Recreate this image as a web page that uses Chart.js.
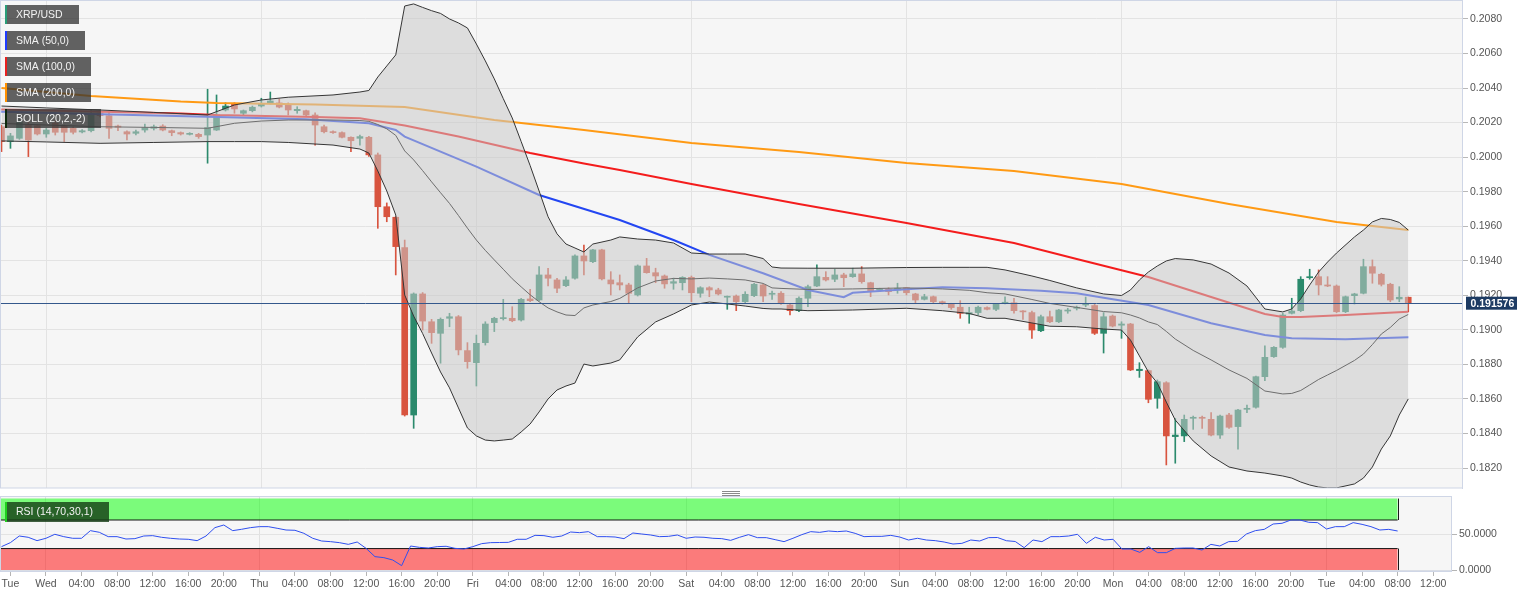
<!DOCTYPE html>
<html><head><meta charset="utf-8">
<script src="https://cdn.jsdelivr.net/npm/chart.js@4.4.1/dist/chart.umd.min.js"></script>
<style>
html,body{margin:0;padding:0;background:#fff;}
#wrap{position:relative;width:1536px;height:596px;overflow:hidden;background:#fff;}
#main{position:absolute;left:0;top:0;}
#rsi{position:absolute;left:0;top:489px;}
</style></head><body>
<div id="wrap"><canvas id="main" width="1536" height="489"></canvas><canvas id="rsi" width="1536" height="107"></canvas></div>
<script>
// ---------- DATA (hours counted from Wed 00:00, hourly candles) ----------
const firstHour = -5; // Tue 19:00
const open = [.20176,.20090,.20109,.20186,.20182,.20134,.20196,.20180,.20167,.20146,
.20153,.20256,.20240,.20180,.20147,.20138,.20157,.20167,.20180,.20153,
.20142,.20132,.20132,.20128,.20157,.20273,.20306,.20254,.20269,.20296,
.20314,.20314,.20302,.20269,.20269,.20244,.20176,.20147,.20142,.20115,
.20109,.20115,.20013,.19713,.19652,.19476,.18507,.19208,.19047,.18980,
.19067,.19076,.18880,.18810,.18926,.19042,.19065,.19067,.19057,.19179,
.19173,.19318,.19289,.19256,.19299,.19428,.19395,.19463,.19289,.19273,
.19260,.19202,.19370,.19331,.19312,.19270,.19273,.19304,.19212,.19244,
.19231,.19189,.19196,.19163,.19198,.19260,.19206,.19212,.19144,.19111,
.19183,.19254,.19304,.19293,.19318,.19308,.19324,.19273,.19231,.19235,
.19231,.19244,.19208,.19177,.19192,.19163,.19148,.19131,.19092,.19100,
.19129,.19119,.19154,.19157,.19109,.19100,.18995,.19076,.19047,.19109,
.19125,.19144,.19141,.18980,.19080,.19027,.19034,.18764,.18764,.18604,
.18694,.18382,.18386,.18488,.18494,.18482,.18391,.18507,.18440,.18540,
.18552,.18729,.18845,.18899,.19096,.19111,.19302,.19308,.19260,.19254,
.19105,.19198,.19212,.19366,.19322,.19264,.19179,.19189];
const high = [.20186,.20138,.20219,.20205,.20186,.20167,.20209,.20186,.20175,.20160,
.20273,.20267,.20262,.20186,.20152,.20157,.20192,.20186,.20188,.20157,
.20146,.20142,.20138,.20393,.20360,.20315,.20315,.20273,.20296,.20341,
.20377,.20337,.20314,.20292,.20273,.20256,.20186,.20152,.20146,.20117,
.20128,.20120,.20024,.19735,.19655,.19520,.19214,.19216,.19061,.19069,
.19096,.19083,.18926,.18970,.19047,.19073,.19177,.19134,.19182,.19235,
.19366,.19357,.19299,.19308,.19434,.19491,.19467,.19467,.19337,.19318,
.19270,.19376,.19414,.19357,.19318,.19299,.19308,.19312,.19250,.19250,
.19241,.19196,.19202,.19221,.19270,.19264,.19225,.19221,.19154,.19192,
.19260,.19376,.19337,.19351,.19328,.19357,.19366,.19276,.19241,.19244,
.19270,.19246,.19212,.19206,.19196,.19167,.19154,.19169,.19131,.19138,
.19134,.19154,.19192,.19183,.19111,.19109,.19086,.19109,.19119,.19125,
.19138,.19190,.19150,.19100,.19086,.19047,.19038,.18810,.18768,.18710,
.18700,.18488,.18507,.18501,.18501,.18521,.18507,.18517,.18540,.18565,
.18733,.18907,.18903,.19096,.19183,.19308,.19351,.19347,.19308,.19260,
.19196,.19212,.19409,.19405,.19328,.19270,.19250,.19190];
const low = [.20032,.20051,.20103,.20003,.20128,.20115,.20128,.20090,.20134,.20140,
.20146,.20233,.20109,.20153,.20099,.20128,.20144,.20157,.20152,.20124,
.20128,.20128,.20109,.19965,.20154,.20267,.20254,.20244,.20262,.20290,
.20308,.20285,.20244,.20254,.20238,.20070,.20140,.20137,.20111,.20032,
.20070,.20004,.19588,.19626,.19318,.18501,.18430,.18999,.18922,.18807,
.19018,.18855,.18778,.18675,.18912,.18990,.19057,.19047,.19051,.19163,
.19167,.19254,.19215,.19250,.19293,.19318,.19389,.19289,.19202,.19231,
.19154,.19196,.19328,.19273,.19241,.19235,.19231,.19163,.19189,.19192,
.19202,.19119,.19111,.19154,.19192,.19163,.19177,.19148,.19086,.19105,
.19134,.19250,.19283,.19279,.19250,.19304,.19270,.19192,.19221,.19202,
.19212,.19202,.19154,.19173,.19157,.19148,.19119,.19067,.19038,.19086,
.19115,.19111,.19150,.19096,.19061,.18951,.18990,.19042,.19042,.19096,
.19115,.19134,.18973,.18866,.19017,.18951,.18764,.18725,.18578,.18546,
.18218,.18228,.18353,.18424,.18430,.18386,.18372,.18430,.18309,.18521,
.18546,.18706,.18841,.18893,.19092,.19105,.19293,.19202,.19250,.19100,
.19100,.19150,.19208,.19270,.19254,.19163,.19163,.19105];
const close = [.20090,.20123,.20205,.20099,.20134,.20157,.20144,.20144,.20144,.20153,
.20254,.20240,.20167,.20173,.20134,.20147,.20171,.20176,.20157,.20142,
.20134,.20138,.20119,.20171,.20244,.20296,.20279,.20269,.20289,.20308,
.20325,.20290,.20273,.20277,.20244,.20186,.20147,.20142,.20115,.20095,
.20119,.20013,.19713,.19655,.19482,.18507,.19208,.19051,.18984,.19061,
.19076,.18884,.18816,.18922,.19034,.19067,.19071,.19053,.19177,.19169,
.19318,.19299,.19241,.19289,.19428,.19399,.19463,.19295,.19266,.19260,
.19212,.19370,.19331,.19312,.19266,.19279,.19304,.19215,.19244,.19231,
.19208,.19192,.19163,.19206,.19264,.19196,.19212,.19154,.19111,.19183,
.19250,.19308,.19289,.19318,.19302,.19324,.19279,.19227,.19235,.19221,
.19241,.19215,.19173,.19192,.19163,.19154,.19129,.19096,.19100,.19131,
.19119,.19150,.19160,.19111,.19104,.18999,.19076,.19047,.19115,.19115,
.19131,.19153,.18980,.19076,.19022,.19034,.18768,.18772,.18598,.18700,
.18386,.18391,.18482,.18494,.18488,.18391,.18501,.18436,.18536,.18546,
.18729,.18841,.18899,.19086,.19109,.19293,.19308,.19260,.19254,.19105,
.19192,.19208,.19366,.19328,.19264,.19173,.19189,.191576];
const lastPrice = 0.191576;

const sma50Hours = [-5,5,18,29,36,39,40,48,55,64,70,74,80,85,89,90,96,100,105,111,115,118,123,130,136,139,145,152];
const sma50 = [.20263,.20250,.20234,.20219,.20196,.20157,.20119,.19945,.19781,.19636,.19520,.19434,.19328,.19231,.19189,.19215,.19235,.19247,.19241,.19227,.19212,.19186,.19144,.19038,.18970,.18951,.18946,.18957];
const sma100Hours = [-5,5,15,19,30,35,40,46,54,60,64,72,84,96,108,115,123,130,136,138,140,145,152];
const sma100 = [.20276,.20264,.20253,.20244,.20233,.20225,.20183,.20119,.20024,.19963,.19926,.19845,.19729,.19619,.19503,.19410,.19306,.19190,.19092,.19075,.19075,.19086,.19105];
const sma200Hours = [-5,5,15,19,30,40,50,60,72,84,96,108,120,132,144,152];
const sma200 = [.20400,.20354,.20322,.20314,.20305,.20290,.20215,.20157,.20082,.20030,.19966,.19920,.19845,.19729,.19625,.19578];

const bollHours = [-5,0,6,12,18,21,24,27,32,35,36,37,38,39,40,41,42,43,44,45,46,47,48,49,50,51,52,53,54,55,56,57,58,59,60,61,63,64,66,68,70,72,74,76,78,80,81,82,85,90,96,100,103,105,107,110,112,115,118,120,121,122,123,124,125,126,128,130,132,134,136,138,139,140,141,142,143,144,146,147,148,149,150,151,152];
const bollUpper = [.20296,.20285,.20273,.20259,.20244,.20302,.20331,.20347,.20360,.20377,.20386,.20464,.20528,.20592,.20875,.20887,.20867,.20848,.20832,.20800,.20777,.20748,.20655,.20557,.20453,.20339,.20227,.20090,.19951,.19804,.19655,.19556,.19497,.19474,.19451,.19497,.19520,.19538,.19526,.19520,.19503,.19445,.19439,.19439,.19439,.19413,.19364,.19358,.19357,.19357,.19361,.19362,.19362,.19362,.19347,.19312,.19286,.19243,.19208,.19199,.19231,.19289,.19335,.19370,.19399,.19413,.19405,.19381,.19329,.19254,.19121,.19104,.19121,.19179,.19260,.19335,.19393,.19445,.19538,.19578,.19625,.19645,.19639,.19622,.19578];
const bollMid = [.20195,.20186,.20176,.20172,.20167,.20196,.20209,.20215,.20215,.20212,.20207,.20189,.20164,.20126,.20036,.19984,.19922,.19857,.19794,.19732,.19662,.19589,.19520,.19460,.19405,.19351,.19296,.19249,.19203,.19163,.19127,.19104,.19086,.19083,.19127,.19144,.19164,.19182,.19243,.19283,.19298,.19295,.19300,.19295,.19289,.19269,.19243,.19240,.19234,.19237,.19243,.19237,.19229,.19215,.19208,.19176,.19153,.19130,.19106,.19099,.19086,.19069,.19046,.19031,.18991,.18947,.18881,.18826,.18768,.18719,.18646,.18629,.18632,.18649,.18681,.18713,.18739,.18765,.18823,.18860,.18915,.18976,.19014,.19063,.19089];
const bollLower = [.20094,.20088,.20080,.20085,.20090,.20090,.20090,.20085,.20070,.20047,.20024,.19920,.19804,.19665,.19202,.19080,.18979,.18866,.18756,.18664,.18548,.18432,.18386,.18362,.18357,.18362,.18368,.18409,.18455,.18525,.18600,.18652,.18675,.18692,.18802,.18791,.18808,.18826,.18959,.19046,.19092,.19144,.19161,.19150,.19138,.19124,.19121,.19121,.19111,.19115,.19125,.19111,.19095,.19067,.19067,.19040,.19021,.19018,.19005,.18999,.18941,.18849,.18756,.18692,.18582,.18478,.18357,.18270,.18206,.18183,.18171,.18154,.18142,.18119,.18102,.18090,.18085,.18085,.18108,.18142,.18206,.18310,.18386,.18507,.18600];

const rsi = [32.7,38.3,47.6,45.8,41.1,44.4,50,46.7,44.4,44.4,
55.1,52.8,46.7,46.7,43.4,43.9,47.6,48.1,45.8,44.4,
43.4,43,41.1,47.6,59.3,63,55.1,57,59.3,60.7,
60.7,58.4,56,55.6,51.4,44.4,40.6,39.7,38.3,35.9,
39.2,30.3,18.7,17.3,14,6.1,33.6,31.7,30.8,32.7,
33.2,30.3,29.4,32.7,36.9,38.3,38.5,38.7,43,43,
48.5,48.1,45.8,47.6,53.2,52.3,53.7,46.7,46.7,46.2,
43.9,51.8,50.4,49,46.7,47.1,49,44.4,46.2,45.8,
44.4,43.9,41.5,45.8,49.5,45.3,45.3,42.5,39.7,44.4,
49.5,53.7,52.7,54.6,53.7,54.6,51.3,46.7,47.1,47.1,
48.5,46.2,42,44.4,42,41.1,39.2,36.4,37.3,42,
40.6,45.3,45.5,41,39.9,31.3,42,39.7,46.7,46.7,
47.6,50,37.3,45.8,42,43,29.4,29.4,24.7,32.7,
24.3,24.3,30.3,30.8,30.8,28,35.9,33.6,39.7,40.1,
50.4,55.1,56.9,64.4,65.4,70,70,66.8,66.3,57.4,
60.7,60.7,66.3,63.9,60.7,56,56.9,54.6];
const rsiOverbought = 70, rsiOversold = 30;
const rsiTicks = [0, 50];

const yTicks = [0.182,0.184,0.186,0.188,0.190,0.192,0.194,0.196,0.198,0.200,0.202,0.204,0.206,0.208];
const dayHours = [0,24,48,72,96,120,144];
const xTickHours = [-4,0,4,8,12,16,20,24,28,32,36,40,44,48,52,56,60,64,68,72,76,80,84,88,92,96,100,104,108,112,116,120,124,128,132,136,140,144,148,152,156];
const xTickLabels = ['Tue','Wed','04:00','08:00','12:00','16:00','20:00','Thu','04:00','08:00','12:00','16:00','20:00','Fri','04:00','08:00','12:00','16:00','20:00','Sat','04:00','08:00','12:00','16:00','20:00','Sun','04:00','08:00','12:00','16:00','20:00','Mon','04:00','08:00','12:00','16:00','20:00','Tue','04:00','08:00','12:00'];
const legendNames = ['XRP/USD','SMA (50,0)','SMA (100,0)','SMA (200,0)','BOLL (20,2,-2)'];
const rsiName = 'RSI (14,70,30,1)';

// ---------- RENDERING ----------
const FONT = '"Liberation Sans", Arial, Helvetica, sans-serif';
Chart.defaults.font.family = FONT;
Chart.defaults.font.size = 10.5;
Chart.defaults.color = '#555';

const xMin = -5.167, xMax = 158.0;
const yMin = 0.180845, yMax = 0.20904;
const hours = open.map((_, i) => firstHour + i);
const lastHour = hours[hours.length - 1];
const UP = '#2b8a6c', DOWN = '#d8543f';
const candleColors = close.map((c, i) => c >= open[i] ? UP : DOWN);
const pts = (hs, vs) => hs.map((h, i) => ({x: h, y: vs[i]}));
const noPad = s => { s.paddingTop = 0; s.paddingBottom = 0; s.paddingLeft = 0; s.paddingRight = 0; };

const bgPlugin = {
  id: 'bg',
  beforeDraw(chart) {
    const {ctx, chartArea: a} = chart;
    ctx.save();
    ctx.fillStyle = '#ffffff'; ctx.fillRect(0, 0, chart.width, chart.height);
    ctx.fillStyle = '#f6f6f6'; ctx.fillRect(a.left, a.top, a.right - a.left, a.bottom - a.top);
    ctx.restore();
  }
};

function drawTag(ctx, x, y, h, text, strip, bg) {
  ctx.font = '10.5px ' + FONT;
  const w = Math.round(ctx.measureText(text).width) + 27;
  ctx.fillStyle = bg; ctx.fillRect(x, y, w, h);
  ctx.fillStyle = strip; ctx.fillRect(x, y, 2, h);
  ctx.fillStyle = '#f2f2f2'; ctx.textBaseline = 'middle'; ctx.textAlign = 'left';
  ctx.fillText(text, x + 11, y + h / 2 + 0.5);
}

const mainDecor = {
  id: 'mainDecor',
  afterDatasetsDraw(chart) {
    const {ctx, chartArea: a, scales} = chart;
    const y = Math.round(scales.y.getPixelForValue(lastPrice)) + 0.5;
    ctx.save();
    ctx.strokeStyle = '#34588c'; ctx.lineWidth = 1;
    ctx.beginPath(); ctx.moveTo(a.left, y); ctx.lineTo(a.right, y); ctx.stroke();
    ctx.fillStyle = '#1d3b63';
    ctx.fillRect(a.right + 4, y - 6.8, 51, 13);
    ctx.fillStyle = '#ffffff'; ctx.font = 'bold 10.5px ' + FONT;
    ctx.textBaseline = 'middle'; ctx.textAlign = 'left';
    ctx.fillText(lastPrice.toFixed(6), a.right + 8.5, y + 0.3);
    ctx.restore();
  },
  afterDraw(chart) {
    const {ctx, chartArea: a} = chart;
    ctx.save();
    ctx.strokeStyle = '#cfd6e6'; ctx.lineWidth = 1;
    ctx.strokeRect(a.left + 0.5, a.top - 0.5, a.right - a.left, a.bottom - a.top + 0.5);
    const strips = ['#2a9d78', '#1f3cff', '#e82020', '#ff9000', '#0e2a0e'];
    legendNames.forEach((t, i) => drawTag(ctx, 5, 5 + i * 26, 19, t, strips[i], 'rgba(50,50,50,0.76)'));
    ctx.restore();
  }
};

new Chart(document.getElementById('main'), {
  type: 'bar',
  data: {
    datasets: [
      {type: 'line', label: 'BOLL mid', data: pts(bollHours, bollMid), borderColor: '#6e6e6e', borderWidth: 1, pointRadius: 0, fill: false, order: 1},
      {type: 'line', label: 'BOLL lower', data: pts(bollHours, bollLower), borderColor: '#363636', borderWidth: 1, pointRadius: 0, fill: false, order: 2},
      {type: 'line', label: 'BOLL upper', data: pts(bollHours, bollUpper), borderColor: '#363636', borderWidth: 1, pointRadius: 0, fill: {target: 1}, backgroundColor: 'rgba(200,200,200,0.55)', order: 3},
      {type: 'line', label: 'SMA (50,0)', data: pts(sma50Hours, sma50), borderColor: '#2346f2', borderWidth: 2, pointRadius: 0, fill: false, order: 4},
      {type: 'line', label: 'SMA (100,0)', data: pts(sma100Hours, sma100), borderColor: '#f41c1c', borderWidth: 2, pointRadius: 0, fill: false, order: 4},
      {type: 'line', label: 'SMA (200,0)', data: pts(sma200Hours, sma200), borderColor: '#ff9a14', borderWidth: 2, pointRadius: 0, fill: false, order: 4},
      {type: 'bar', label: 'wick', data: hours.map((h, i) => ({x: h, y: [low[i], high[i]]})), backgroundColor: candleColors, barThickness: 1, grouped: false, borderWidth: 0, order: 5},
      {type: 'bar', label: 'XRP/USD', data: hours.map((h, i) => ({x: h, y: [open[i], close[i]]})), backgroundColor: candleColors, barThickness: 6, minBarLength: 1, grouped: false, borderWidth: 0, order: 5}
    ]
  },
  options: {
    responsive: false, animation: false, devicePixelRatio: 1,
    layout: {padding: {top: 1, bottom: 1, left: 0, right: 0}, autoPadding: false},
    plugins: {legend: {display: false}, tooltip: {enabled: false}},
    scales: {
      x: {type: 'linear', min: xMin, max: xMax, offset: false,
        grid: {color: '#e3e3e3', offset: false, drawTicks: false},
        border: {display: false},
        ticks: {display: false},
        afterBuildTicks: s => { s.ticks = dayHours.map(v => ({value: v})); },
        afterFit: s => { s.height = 0; noPad(s); }},
      y: {type: 'linear', position: 'right', min: yMin, max: yMax,
        grid: {color: '#e3e3e3', tickLength: 6, tickColor: '#b8b8b8'},
        border: {color: '#cfd6e6'},
        ticks: {padding: 2, color: '#555', callback: v => v.toFixed(4)},
        afterBuildTicks: s => { s.ticks = yTicks.map(v => ({value: v})); },
        afterFit: s => { s.width = 74; noPad(s); }}
    }
  },
  plugins: [bgPlugin, mainDecor]
});

const rsiDecor = {
  id: 'rsiDecor',
  afterDatasetsDraw(chart) {
    const {ctx, chartArea: a, scales} = chart;
    const xr = Math.round(scales.x.getPixelForValue(lastHour)) + 0.5;
    const y100 = scales.y.getPixelForValue(100), y70 = scales.y.getPixelForValue(rsiOverbought);
    const y30 = scales.y.getPixelForValue(rsiOversold), y0 = scales.y.getPixelForValue(0);
    ctx.save();
    ctx.strokeStyle = '#1a1a1a'; ctx.lineWidth = 1;
    ctx.beginPath();
    ctx.moveTo(xr, y100); ctx.lineTo(xr, y70);
    ctx.moveTo(xr, y30); ctx.lineTo(xr, y0);
    ctx.moveTo(a.left + 0.5, y100); ctx.lineTo(a.left + 0.5, y70);
    ctx.moveTo(a.left + 0.5, y30); ctx.lineTo(a.left + 0.5, y0);
    ctx.stroke();
    ctx.restore();
  },
  afterDraw(chart) {
    const {ctx, chartArea: a} = chart;
    ctx.save();
    ctx.strokeStyle = '#cfd6e6'; ctx.lineWidth = 1;
    ctx.strokeRect(a.left + 0.5, a.top - 0.5, a.right - a.left, a.bottom - a.top + 0.5);
    ctx.strokeStyle = '#8a8a8a';
    ctx.beginPath();
    [2.5, 4.5, 6.5].forEach(yy => { ctx.moveTo(722, yy); ctx.lineTo(740, yy); });
    ctx.stroke();
    drawTag(ctx, 5, 13, 20, rsiName, '#1fd01f', 'rgba(20,60,20,0.8)');
    ctx.restore();
  }
};

new Chart(document.getElementById('rsi'), {
  type: 'line',
  data: {
    datasets: [
      {label: rsiName, data: pts(hours, rsi), borderColor: '#2f4ff0', borderWidth: 1, pointRadius: 0, fill: false, order: 1},
      {label: 'overbought', data: [{x: xMin, y: rsiOverbought}, {x: lastHour, y: rsiOverbought}], borderColor: '#151515', borderWidth: 1, pointRadius: 0, fill: {value: 100}, backgroundColor: 'rgba(0,255,0,0.5)', order: 2},
      {label: 'oversold', data: [{x: xMin, y: rsiOversold}, {x: lastHour, y: rsiOversold}], borderColor: '#151515', borderWidth: 1, pointRadius: 0, fill: {value: 0}, backgroundColor: 'rgba(255,0,0,0.5)', order: 2}
    ]
  },
  options: {
    responsive: false, animation: false, devicePixelRatio: 1,
    layout: {padding: {top: 8, bottom: 0, left: 0, right: 0}, autoPadding: false},
    plugins: {legend: {display: false}, tooltip: {enabled: false}},
    scales: {
      x: {type: 'linear', min: xMin, max: xMax, offset: false,
        grid: {color: c => (c.tick && dayHours.includes(c.tick.value)) ? '#e0e0e0' : 'rgba(0,0,0,0)', tickColor: '#b5b5b5', tickLength: 5, offset: false},
        border: {color: '#cfd6e6'},
        ticks: {autoSkip: false, maxRotation: 0, padding: 2, color: '#555', callback: (v, i) => xTickLabels[i]},
        afterBuildTicks: s => { s.ticks = xTickHours.map(v => ({value: v})); },
        afterFit: s => { s.height = 25; noPad(s); }},
      y: {type: 'linear', position: 'right', min: -1.4, max: 102.2,
        grid: {color: '#e3e3e3', tickLength: 6, tickColor: '#b5b5b5'},
        border: {color: '#cfd6e6'},
        ticks: {padding: 2, color: '#555', callback: v => v.toFixed(4)},
        afterBuildTicks: s => { s.ticks = rsiTicks.map(v => ({value: v})); },
        afterFit: s => { s.width = 85; noPad(s); }}
    }
  },
  plugins: [bgPlugin, rsiDecor]
});
</script>
</body></html>
